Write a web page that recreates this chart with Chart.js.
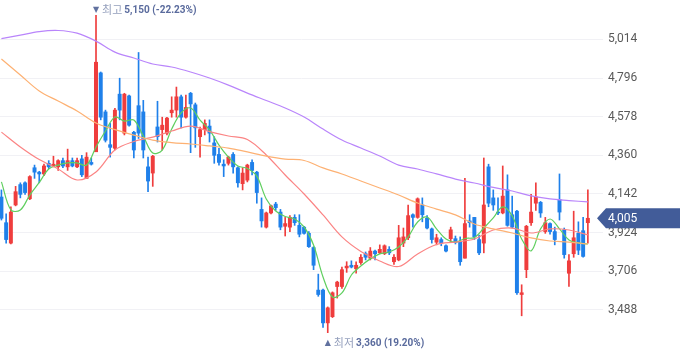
<!DOCTYPE html>
<html>
<head>
<meta charset="utf-8">
<script src="https://cdn.jsdelivr.net/npm/chart.js@4.4.1/dist/chart.umd.min.js"></script>
<style>
  html, body { margin: 0; padding: 0; background: #fff; }
  #wrap { width: 680px; height: 358px; position: relative; }
</style>
</head>
<body>
<div id="wrap"><canvas id="priceChart"></canvas></div>
<script>
// daily candles, oldest first
const opens = [
  4125, 3980, 3865, 4080, 4195, 4205, 4115, 4290, 4265, 4255,
  4315, 4300, 4295, 4330, 4295, 4330, 4295, 4340, 4230, 4320,
  4380, 4825, 4605, 4420, 4400, 4705, 4485, 4695, 4490, 4640,
  4605, 4295, 4260, 4520, 4505, 4485, 4600, 4615, 4690, 4575,
  4710, 4645, 4465, 4505, 4525, 4430, 4365, 4310, 4315, 4365,
  4290, 4200, 4220, 4320, 4265, 4055, 3955, 4035, 4085, 4040,
  3960, 3955, 4010, 3965, 3955, 3920, 3840, 3600, 3600, 3415,
  3450, 3620, 3620, 3725, 3740, 3720, 3755, 3805, 3780, 3820,
  3810, 3805, 3830, 3760, 3770, 3865, 3895, 4025, 4010, 4080,
  4005, 3945, 3870, 3885, 3850, 3890, 3890, 3870, 3780, 3990,
  4010, 3885, 3865, 4295, 4120, 4040, 4035, 4165, 4025, 4045,
  3575, 3715, 3980, 4090, 4095, 3930, 3975, 3930, 4110, 3940,
  3695, 3805, 3920, 3935, 3980
];
const highs = [
  4165, 4030, 4070, 4185, 4205, 4210, 4245, 4305, 4270, 4310,
  4330, 4355, 4335, 4345, 4395, 4345, 4345, 4360, 4375, 4345,
  5150, 4830, 4615, 4540, 4625, 4795, 4710, 4700, 4495, 4940,
  4670, 4350, 4360, 4665, 4575, 4575, 4690, 4745, 4700, 4700,
  4715, 4655, 4520, 4560, 4560, 4465, 4400, 4335, 4355, 4375,
  4295, 4290, 4310, 4335, 4270, 4120, 4040, 4080, 4095, 4055,
  4010, 4020, 4025, 4025, 3960, 3930, 3845, 3690, 3605, 3505,
  3590, 3650, 3730, 3760, 3765, 3760, 3800, 3815, 3840, 3825,
  3855, 3855, 3845, 3800, 3965, 3950, 4080, 4030, 4120, 4120,
  4020, 3950, 3915, 3895, 3855, 3955, 3905, 3900, 4230, 4025,
  4010, 3910, 4345, 4310, 4165, 4120, 4300, 4250, 4130, 4050,
  3630, 3965, 4140, 4205, 4100, 4010, 3980, 3955, 4255, 3950,
  3800, 4045, 3985, 4010, 4165
];
const lows = [
  3995, 3865, 3860, 4075, 4120, 4140, 4110, 4230, 4205, 4245,
  4285, 4295, 4275, 4290, 4275, 4295, 4290, 4240, 4230, 4305,
  4380, 4560, 4435, 4350, 4390, 4560, 4475, 4525, 4345, 4455,
  4345, 4155, 4185, 4435, 4390, 4475, 4575, 4575, 4515, 4570,
  4375, 4405, 4350, 4475, 4435, 4315, 4305, 4240, 4305, 4260,
  4180, 4165, 4210, 4250, 4090, 3955, 3950, 4030, 4050, 3940,
  3905, 3930, 3965, 3900, 3915, 3840, 3715, 3565, 3390, 3360,
  3445, 3555, 3610, 3700, 3725, 3695, 3745, 3770, 3770, 3770,
  3805, 3800, 3800, 3745, 3765, 3845, 3885, 3955, 4005, 3985,
  3945, 3865, 3855, 3850, 3815, 3870, 3860, 3740, 3780, 3955,
  3885, 3800, 3810, 4070, 4050, 4025, 4030, 3960, 3950, 3575,
  3455, 3670, 3965, 4050, 4010, 3920, 3915, 3855, 3995, 3780,
  3620, 3785, 3800, 3785, 3865
];
const closes = [
  4005, 3885, 4040, 4155, 4140, 4150, 4240, 4265, 4255, 4300,
  4295, 4310, 4330, 4300, 4330, 4300, 4330, 4250, 4350, 4310,
  4885, 4575, 4445, 4405, 4615, 4615, 4705, 4530, 4390, 4485,
  4390, 4215, 4355, 4465, 4530, 4570, 4615, 4690, 4575, 4630,
  4650, 4515, 4505, 4540, 4485, 4360, 4320, 4300, 4350, 4295,
  4205, 4260, 4305, 4275, 4150, 3990, 4035, 4075, 4065, 3955,
  3975, 4010, 3980, 3915, 3920, 3845, 3740, 3575, 3415, 3500,
  3585, 3645, 3715, 3735, 3730, 3740, 3785, 3785, 3820, 3805,
  3830, 3850, 3810, 3785, 3895, 3900, 4020, 4010, 4115, 4025,
  3950, 3885, 3895, 3865, 3820, 3940, 3870, 3760, 3975, 3980,
  3900, 3810, 4080, 4090, 4080, 4035, 4130, 3965, 3955, 3585,
  3585, 3960, 4040, 4125, 4035, 3980, 3930, 3885, 4040, 3800,
  3765, 3895, 3825, 3790, 4005
];

// moving averages (ma5 every 2nd candle, the others every 4th)
const ma5Step = 2;
const ma5 = [
  4210, 4052, 4052, 4136, 4207, 4283, 4305, 4317, 4317, 4305,
  4407, 4497, 4576, 4553, 4559, 4469, 4373, 4390, 4508, 4599,
  4627, 4559, 4503, 4418, 4350, 4300, 4286, 4243, 4114, 4046,
  4015, 4001, 3956, 3854, 3674, 3561, 3584, 3685, 3736, 3776,
  3804, 3815, 3843, 3900, 3984, 4012, 3945, 3888, 3871, 3891,
  3897, 3950, 4007, 4069, 4018, 3888, 3821, 3945, 4001, 3945,
  3883, 3866, 3860
];
const maStep = 4;
const ma20 = [
  4491, 4407, 4336, 4283, 4221, 4266, 4390, 4438, 4463, 4497,
  4525, 4494, 4469, 4449, 4362, 4249, 4142, 4024, 3900, 3818,
  3764, 3733, 3804, 3857, 3871, 3888, 3939, 3950, 3922, 3945,
  3939, 3911
];
const ma60 = [
  4903, 4813, 4723, 4666, 4610, 4542, 4505, 4474, 4446, 4432,
  4424, 4413, 4401, 4379, 4356, 4339, 4331, 4289, 4255, 4215,
  4176, 4136, 4091, 4057, 4024, 3973, 3945, 3922, 3894, 3877,
  3871, 3860
];
const ma120 = [
  5018, 5038, 5058, 5064, 5049, 5004, 4942, 4909, 4875, 4858,
  4830, 4796, 4756, 4711, 4669, 4627, 4576, 4508, 4446, 4401,
  4356, 4305, 4283, 4255, 4226, 4204, 4179, 4159, 4131, 4114,
  4105, 4097
];

const yTicks = [5014, 4796, 4578, 4360, 4142, 3924, 3706, 3488];

const UP = '#ef3d3d';
const DOWN = '#1f80ea';

const candleColors = closes.map((c, i) => c >= opens[i] ? UP : DOWN);
const bodies = closes.map((c, i) => ({ x: i, y: [opens[i], c] }));
const wicks = highs.map((h, i) => ({ x: i, y: [lows[i], h] }));

function maPoints(vals, step) {
  return vals.map((v, k) => ({ x: k * step, y: v }));
}

function fmt(n) {
  return n.toLocaleString('en-US');
}

const lastClose = closes[closes.length - 1];
const maxHigh = Math.max(...highs);
const minLow = Math.min(...lows);
const hiIdx = highs.indexOf(maxHigh);
const loIdx = lows.indexOf(minLow);

function drawNote(ctx, cx, cy, arrow, word, value) {
  ctx.save();
  ctx.textBaseline = 'middle';
  ctx.textAlign = 'left';
  ctx.font = '8px "DejaVu Sans"';
  const aw = ctx.measureText(arrow).width;
  let px = cx - aw / 2;
  ctx.fillStyle = '#61719f';
  ctx.fillText(arrow, px, cy);
  px += aw + 3;
  ctx.font = '11px "Noto Sans CJK KR"';
  ctx.fillStyle = '#95a0bd';
  ctx.fillText(word, px, cy);
  px += ctx.measureText(word).width + 2;
  ctx.font = 'bold 10px Roboto';
  ctx.fillStyle = '#5a6b9d';
  ctx.fillText(value, px, cy + 0.5);
  ctx.restore();
}

const markers = {
  id: 'markers',
  afterDraw(chart) {
    const { ctx, chartArea, scales: { x, y } } = chart;

    const pctHi = ((lastClose - maxHigh) / maxHigh * 100).toFixed(2);
    const pctLo = ((lastClose - minLow) / minLow * 100).toFixed(2);
    drawNote(ctx, x.getPixelForValue(hiIdx), 9.5, '▼', '최고', fmt(maxHigh) + ' (' + pctHi + '%)');
    drawNote(ctx, x.getPixelForValue(loIdx), 343, '▲', '최저', fmt(minLow) + ' (' + pctLo + '%)');

    // current price tag
    const yy = y.getPixelForValue(lastClose);
    const r = chartArea.right;
    ctx.save();
    ctx.fillStyle = '#425c99';
    ctx.beginPath();
    ctx.moveTo(r - 6, yy);
    ctx.lineTo(r + 3, yy - 10);
    ctx.lineTo(chart.width, yy - 10);
    ctx.lineTo(chart.width, yy + 10);
    ctx.lineTo(r + 3, yy + 10);
    ctx.closePath();
    ctx.fill();
    ctx.fillStyle = '#ffffff';
    ctx.font = '12px Roboto';
    ctx.textBaseline = 'middle';
    ctx.fillText(fmt(lastClose), r + 5, yy + 0.5);
    ctx.restore();
  }
};

const lineBase = {
  type: 'line',
  pointRadius: 0,
  borderWidth: 1.2,
  tension: 0.35,
  fill: false,
  order: 0
};

new Chart(document.getElementById('priceChart'), {
  type: 'bar',
  data: {
    datasets: [
      Object.assign({}, lineBase, { label: '120', data: maPoints(ma120, maStep), borderColor: '#b985fb' }),
      Object.assign({}, lineBase, { label: '60', data: maPoints(ma60, maStep), borderColor: '#fdb173' }),
      Object.assign({}, lineBase, { label: '20', data: maPoints(ma20, maStep), borderColor: '#fb8484' }),
      Object.assign({}, lineBase, { label: '5', data: maPoints(ma5, ma5Step), borderColor: '#5fcf5f' }),
      {
        label: 'body',
        data: bodies,
        backgroundColor: candleColors,
        barThickness: 3.3,
        grouped: false,
        borderWidth: 0,
        order: 1
      },
      {
        label: 'wick',
        data: wicks,
        backgroundColor: candleColors,
        barThickness: 1,
        grouped: false,
        borderWidth: 0,
        order: 2
      }
    ]
  },
  options: {
    responsive: true,
    maintainAspectRatio: false,
    animation: false,
    layout: { padding: 0 },
    plugins: {
      legend: { display: false },
      tooltip: { enabled: false }
    },
    scales: {
      x: {
        type: 'linear',
        display: false,
        offset: false,
        min: -0.3,
        max: 127.2
      },
      y: {
        position: 'right',
        min: 3217,
        max: 5236,
        border: { display: false },
        grid: { color: '#f1f1f5', drawTicks: false },
        ticks: {
          padding: 5,
          color: '#595959',
          font: { family: 'Roboto', size: 12 },
          callback: v => fmt(v)
        },
        afterBuildTicks: scale => {
          scale.ticks = yTicks.map(v => ({ value: v }));
        },
        afterFit: scale => {
          scale.width = 77;
          scale.paddingTop = 0;
          scale.paddingBottom = 0;
        }
      }
    }
  },
  plugins: [markers]
});
</script>
</body>
</html>
